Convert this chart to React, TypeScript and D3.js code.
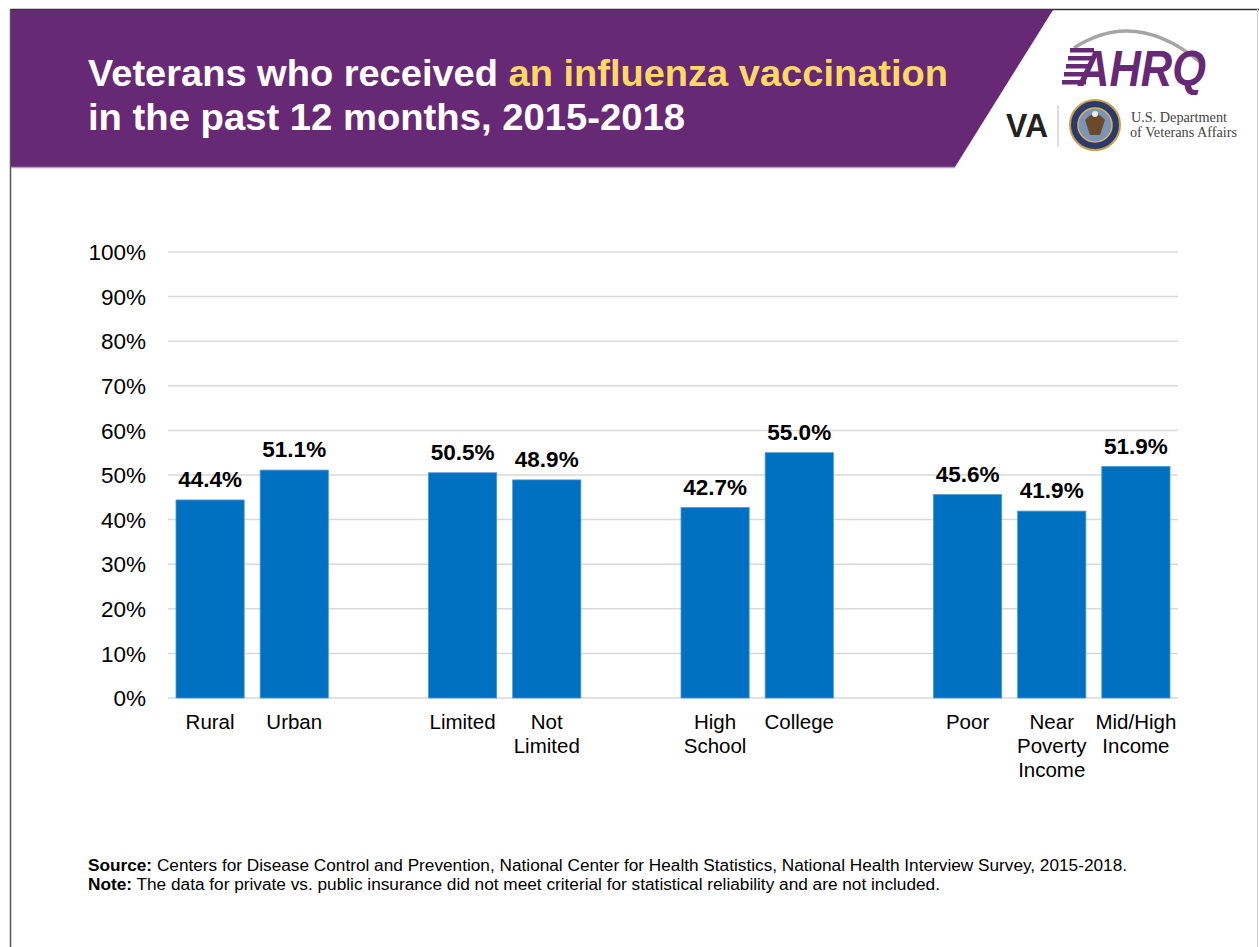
import React from "react";
import * as d3 from "d3";

const slots = ["Rural", "Urban", "gap1", "Limited", "Not Limited", "gap2", "High School", "College", "gap3", "Poor", "Near Poverty Income", "Mid/High Income"];
const categories = ["Rural", "Urban", "Limited", "Not Limited", "High School", "College", "Poor", "Near Poverty Income", "Mid/High Income"];
const categoryLines = [["Rural"], ["Urban"], ["Limited"], ["Not", "Limited"], ["High", "School"], ["College"], ["Poor"], ["Near", "Poverty", "Income"], ["Mid/High", "Income"]];
const values = [44.4, 51.1, 50.5, 48.9, 42.7, 55.0, 45.6, 41.9, 51.9];
const yTicks = [0, 10, 20, 30, 40, 50, 60, 70, 80, 90, 100];

const FONT = "Liberation Sans, Arial, sans-serif";
const SERIF = "Liberation Serif, Times New Roman, serif";

export default function App() {
  const x = d3.scaleBand<string>().domain(slots).range([168, 1178]).paddingInner(0.19).paddingOuter(0.095);
  const y = d3.scaleLinear().domain([0, 100]).range([698, 252]);

  return (
    <svg width={1259} height={947} style={{ position: "absolute", left: 0, top: 0, display: "block", background: "#fff" }} fontFamily={FONT}>
      {/* frame */}
      <rect x={0} y={0} width={1259} height={947} fill="#fff" />
      <line x1={10} y1={9.5} x2={1259} y2={9.5} stroke="#333" strokeWidth={1.5} />
      <line x1={10.5} y1={9} x2={10.5} y2={947} stroke="#555" strokeWidth={1.5} />
      <line x1={1257.5} y1={9} x2={1257.5} y2={947} stroke="#ccc" strokeWidth={1} />
      {/* banner */}
      <polygon points="11,10 1053,10 955,167 11,167" fill="#672876" />
      <line x1={11} y1={167.5} x2={955} y2={167.5} stroke="#b89cc2" strokeWidth={1.5} />
      <text x={88} y={86} fontSize={37} fontWeight="bold" fill="#fff" textLength={860} lengthAdjust="spacingAndGlyphs">
        Veterans who received <tspan fill="#FFD966">an influenza vaccination</tspan>
      </text>
      <text x={88} y={130} fontSize={37} fontWeight="bold" fill="#fff" textLength={597} lengthAdjust="spacingAndGlyphs">in the past 12 months, 2015-2018</text>

      {/* AHRQ logo */}
      <path d="M1074,48 Q1135,8 1200,62" fill="none" stroke="#a5a5a5" strokeWidth={3.5} />
      <g fill="#672876">
        {[0, 1, 2, 3, 4].map((i) => (
          <rect key={i} x={1062 + (4 - i) * 2} y={48 + i * 8} width={24} height={4.5} />
        ))}
      </g>
      <text x={1078} y={86} fontSize={50} fontWeight="bold" fontStyle="italic" fill="#672876" textLength={128} lengthAdjust="spacingAndGlyphs">AHRQ</text>
      {/* VA */}
      <text x={1006} y={137} fontSize={34} fontWeight="bold" fill="#222" textLength={42} lengthAdjust="spacingAndGlyphs">VA</text>
      <line x1={1058} y1={105} x2={1058} y2={147} stroke="#bbb" strokeWidth={1} />
      <circle cx={1095} cy={125} r={25} fill="#2b3a6b" stroke="#c9a24a" strokeWidth={2} />
      <circle cx={1095} cy={125} r={17} fill="#7a94b8" stroke="#d6b25c" strokeWidth={1.5} />
      <path d="M1085,120 Q1095,108 1105,120 L1100,135 L1090,135 Z" fill="#6b4a2b" />
      <circle cx={1095} cy={114} r={3} fill="#eee" />
      <text x={1131} y={122} fontSize={15} fontFamily={SERIF} fill="#444" textLength={96} lengthAdjust="spacingAndGlyphs">U.S. Department</text>
      <text x={1130} y={137} fontSize={15} fontFamily={SERIF} fill="#444" textLength={107} lengthAdjust="spacingAndGlyphs">of Veterans Affairs</text>

      {/* gridlines */}
      {yTicks.map((t) => (
        <line key={t} x1={168} x2={1178} y1={y(t)} y2={y(t)} stroke="#d9d9d9" strokeWidth={1.5} />
      ))}
      {yTicks.map((t) => (
        <text key={"l" + t} x={146} y={y(t)} dy="0.36em" textAnchor="end" fontSize={22.5} fill="#000">{t}%</text>
      ))}

      {/* bars */}
      {categories.map((c, i) => {
        const bx = x(c)!;
        const bw = x.bandwidth();
        return (
          <g key={c}>
            <rect x={bx} y={y(values[i])} width={bw} height={y(0) - y(values[i])} fill="#0070C0" stroke="#4a95d6" strokeWidth={0.8} />
            <text x={bx + bw / 2} y={y(values[i]) - 13} textAnchor="middle" fontSize={22.5} fontWeight="bold" fill="#000">
              {values[i].toFixed(1)}%
            </text>
            {categoryLines[i].map((ln, j) => (
              <text key={j} x={bx + bw / 2} y={729 + j * 24} textAnchor="middle" fontSize={20.5} fill="#000">{ln}</text>
            ))}
          </g>
        );
      })}

      {/* footnote */}
      <text x={88} y={871} fontSize={16} fill="#000" textLength={1039} lengthAdjust="spacingAndGlyphs">
        <tspan fontWeight="bold">Source:</tspan> Centers for Disease Control and Prevention, National Center for Health Statistics, National Health Interview Survey, 2015-2018.
      </text>
      <text x={88} y={890} fontSize={16} fill="#000" textLength={852} lengthAdjust="spacingAndGlyphs">
        <tspan fontWeight="bold">Note:</tspan> The data for private vs. public insurance did not meet criterial for statistical reliability and are not included.
      </text>
    </svg>
  );
}
